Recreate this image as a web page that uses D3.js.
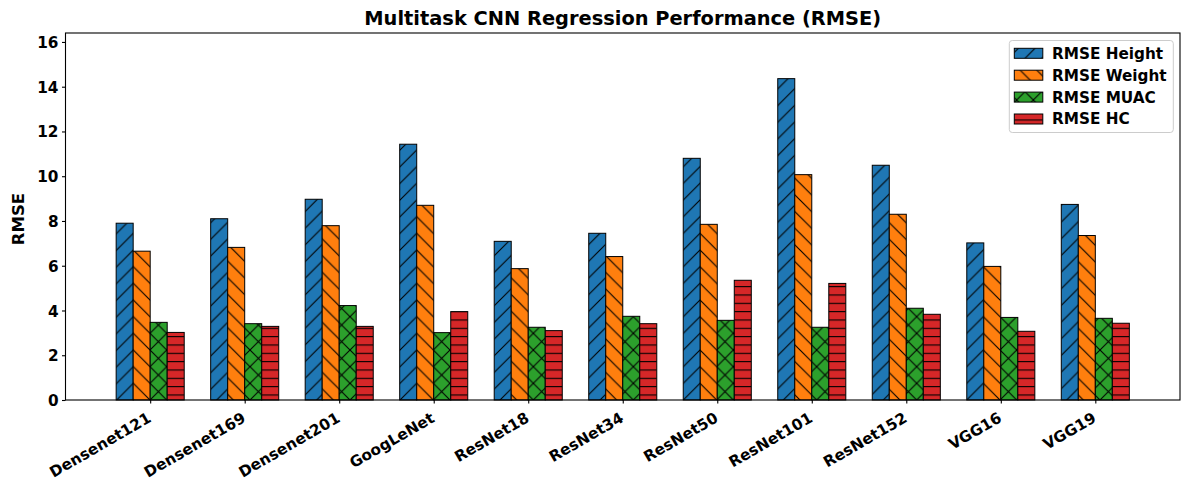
<!DOCTYPE html>
<html><head><meta charset="utf-8">
<script src="https://cdn.jsdelivr.net/npm/d3@7"></script>
<style>
body{margin:0;background:#fff}
svg text{font-family:"DejaVu Sans";font-weight:bold;fill:#000}
</style>
</head><body>
<svg id="chart" width="1189" height="490"></svg>
<script>
const categories = ["Densenet121","Densenet169","Densenet201","GoogLeNet","ResNet18","ResNet34","ResNet50","ResNet101","ResNet152","VGG16","VGG19"];
const seriesNames = ["RMSE Height","RMSE Weight","RMSE MUAC","RMSE HC"];
const rmseHeight = [7.90, 8.10, 8.97, 11.43, 7.09, 7.45, 10.80, 14.36, 10.49, 7.02, 8.74];
const rmseWeight = [6.65, 6.82, 7.79, 8.70, 5.87, 6.41, 7.85, 10.07, 8.30, 5.97, 7.35];
const rmseMUAC   = [3.47, 3.41, 4.22, 3.01, 3.25, 3.74, 3.56, 3.25, 4.10, 3.69, 3.65];
const rmseHC     = [3.02, 3.29, 3.29, 3.95, 3.10, 3.41, 5.35, 5.21, 3.83, 3.07, 3.43];
const yTicks = [0, 2, 4, 6, 8, 10, 12, 14, 16];
const yMax = 16.4;
const titleText = "Multitask CNN Regression Performance (RMSE)";
const yLabelText = "RMSE";

const seriesValues = [rmseHeight, rmseWeight, rmseMUAC, rmseHC];
const colors = ["#1f77b4", "#ff7f0e", "#2ca02c", "#d62728"];
const hatchKinds = ["ne", "nw", "x", "h2"];

const svg = d3.select("#chart");
const L = 65.5, R = 1180, T = 33, B = 400;
const barW = 0.18;
const lo = -1.5 * barW - barW / 2, hi = (categories.length - 1) + 1.5 * barW + barW / 2;
const span = hi - lo;
const x = d3.scaleLinear().domain([lo - 0.05 * span, hi + 0.05 * span]).range([L, R]);
const y = d3.scaleLinear().domain([0, yMax]).range([B, T]);

// hatch patterns
const defs = svg.append("defs");
const S = 100 / 6;
hatchKinds.forEach((k, i) => {
  const size = k === "h2" ? S / 2 : S;
  const p = defs.append("pattern").attr("id", "hatch" + i)
    .attr("patternUnits", "userSpaceOnUse").attr("width", size).attr("height", size);
  p.append("rect").attr("width", size).attr("height", size).attr("fill", colors[i]);
  let d = "";
  const s = size;
  if (k === "ne" || k === "x") d += `M${-s},${s} L${s},${-s} M0,${s} L${s},0 M0,${2*s} L${2*s},0 `;
  if (k === "nw" || k === "x") d += `M${-s},0 L${s},${2*s} M0,0 L${s},${s} M0,${-s} L${2*s},${s} `;
  if (k === "h2") d += `M0,${3.33} L${s},${3.33}`;
  p.append("path").attr("d", d).attr("stroke", "#000").attr("stroke-width", 1.1).attr("fill", "none");
});

// bars
const g = svg.append("g");
seriesValues.forEach((vals, si) => {
  g.selectAll(null).data(vals).enter().append("rect")
    .attr("x", (v, ci) => x(ci + (si - 1.5) * barW - barW / 2))
    .attr("width", x(barW) - x(0))
    .attr("y", v => y(v))
    .attr("height", v => y(0) - y(v))
    .attr("fill", `url(#hatch${si})`)
    .attr("stroke", "#000").attr("stroke-width", 1);
});

// frame
svg.append("rect").attr("x", L).attr("y", T).attr("width", R - L).attr("height", B - T)
  .attr("fill", "none").attr("stroke", "#000").attr("stroke-width", 1.1);

// y axis
const fs = 15.28;
const yAxis = svg.append("g").attr("transform", `translate(${L},0)`)
  .call(d3.axisLeft(y).tickValues(yTicks).tickFormat(d3.format("d")).tickSize(3.5).tickPadding(3.5));
yAxis.select(".domain").remove();
yAxis.selectAll(".tick line").attr("stroke", "#000").attr("stroke-width", 1.1);
yAxis.selectAll(".tick text").attr("font-size", fs).attr("font-family", "DejaVu Sans").attr("font-weight", "bold").attr("dy", "0.36em");

// x axis
const xAxis = svg.append("g").attr("transform", `translate(0,${B})`)
  .call(d3.axisBottom(x).tickValues(d3.range(categories.length)).tickFormat(i => categories[i]).tickSize(3.5));
xAxis.select(".domain").remove();
xAxis.selectAll(".tick line").attr("stroke", "#000").attr("stroke-width", 1.1);
const asc = 0.76 * fs, desc = 0.208 * fs;
xAxis.selectAll(".tick text")
  .attr("font-size", fs).attr("font-family", "DejaVu Sans").attr("font-weight", "bold")
  .attr("text-anchor", "end").attr("dy", null)
  .attr("y", 0).attr("x", 0)
  .attr("transform", `translate(${-0.5 * desc + 3},${11 + 0.866 * asc}) rotate(-30)`);

// title
svg.append("text").attr("x", (L + R) / 2).attr("y", 24.7).attr("text-anchor", "middle")
  .attr("font-size", 19.4).text(titleText);

// y label
svg.append("text").attr("transform", `translate(23.5,${(T + B) / 2 + 2.5}) rotate(-90)`)
  .attr("text-anchor", "middle").attr("font-size", 16.5).text(yLabelText);

// legend
const lg = svg.append("g");
lg.append("rect").attr("x", 1009.3).attr("y", 40.5).attr("width", 164).attr("height", 92)
  .attr("rx", 3).attr("fill", "#fff").attr("fill-opacity", 0.8).attr("stroke", "#cccccc").attr("stroke-width", 1);
seriesNames.forEach((name, i) => {
  const cy = 53.3 + i * 21.9;
  lg.append("rect").attr("x", 1014.3).attr("y", cy - 5).attr("width", 28.5).attr("height", 10)
    .attr("fill", `url(#hatch${i})`).attr("stroke", "#000").attr("stroke-width", 1);
  lg.append("text").attr("x", 1052).attr("y", cy + 5.4).attr("font-size", fs).text(name);
});
</script>
</body></html>
